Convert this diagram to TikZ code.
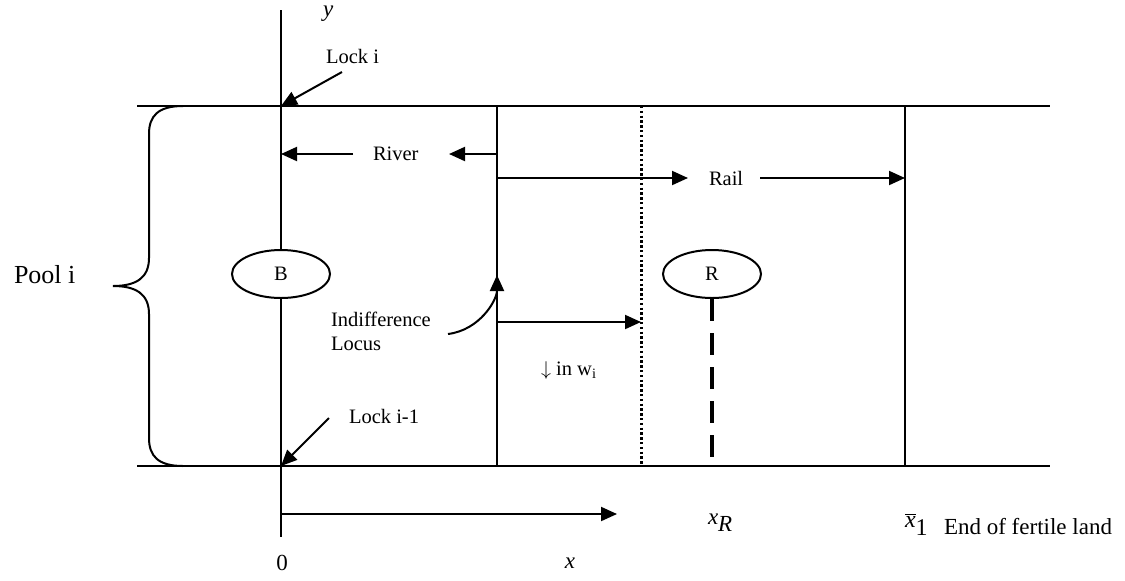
\documentclass[tikz,border=0pt]{standalone}
\usepackage{fontspec}
\setmainfont{Liberation Serif}
\usetikzlibrary{arrows.meta,shapes.geometric}
\begin{document}
\begin{tikzpicture}[x=0.5pt,y=-0.5pt,line width=1pt,
  arr/.style={-{Triangle[length=8pt,width=7pt]}},
  lbl/.style={font=\fontsize{10.25}{12}\selectfont,inner sep=0pt},
  big/.style={font=\fontsize{11.5}{13}\selectfont},
  oval/.style={ellipse,draw,fill=white,minimum width=49pt,minimum height=24pt,inner sep=0pt,font=\fontsize{10.25}{12}\selectfont},
  dotline/.style={line width=1.5pt,dash pattern=on 1.2pt off 1.2pt},
  dashline/.style={line width=1.6pt,dash pattern=on 11pt off 6pt}]
\useasboundingbox (0,0) rectangle (1125,580);
% coordinates
\coordinate (ytop) at (281,10);
\coordinate (ybot) at (281,537);
\coordinate (TL) at (137,106);
\coordinate (TR) at (1050,106);
\coordinate (BL) at (137,466);
\coordinate (BR) at (1050,466);
\coordinate (O1) at (281,106);
\coordinate (O0) at (281,466);
\coordinate (indT) at (497,106);
\coordinate (indB) at (497,466);
\coordinate (dotT) at (641,106);
\coordinate (dotB) at (641,466);
\coordinate (endT) at (905,106);
\coordinate (endB) at (905,466);
\coordinate (xR) at (712,466);
% main lines
\draw (TL) -- (TR);
\draw (BL) -- (BR);
\draw (ytop) -- (ybot);
\draw (indT) -- (indB);
\draw (endT) -- (endB);
\draw[dotline] (dotT) -- (dotB);
% ellipses
\node[oval] (B) at (281,274) {B};
\node[oval] (R) at (712,274) {R};
\draw[dashline] (R.south) -- (xR);
% brace
\draw (183,106) .. controls (158,106) and (149,116) .. (149,134) -- (149,258)
  .. controls (149,278) and (136,286) .. (113,286)
  .. controls (136,286) and (149,294) .. (149,314) -- (149,438)
  .. controls (149,456) and (158,466) .. (183,466);
% labels
\node[lbl,anchor=base west,font=\fontsize{13}{15}\selectfont] (pool) at (13,283) {Pool i};
\node[lbl,big,anchor=base west] (ylab) at (322,16) {\textit{y}};
\node[lbl,anchor=base west] (lock) at (325,63) {Lock i};
\node[lbl,anchor=base west] (lock1) at (348,423) {Lock i-1};
\node[lbl,anchor=west] (river) at (372,154) {River};
\node[lbl,anchor=west] (rail) at (708,178) {Rail};
\node[lbl,anchor=base west,align=left] (ind) at (330,350) {Indifference\\Locus};
\node[lbl,anchor=west] (dw) at (540,370) {$\downarrow$ in w\textsubscript{i}};
\node[lbl,big] (zero) at (282,563) {0};
\node[lbl,big] (xlab) at (570,563) {\textit{x}};
\node[lbl,big,anchor=west] (xRlab) at (707,523) {\(\textit{x}_{\textit{R}}\)};
\node[lbl,big,anchor=west,font=\fontsize{12}{14}\selectfont] (xbar) at (904,524) {\(\overline{\textit{x}}_{\textrm{1}}\)};
\node[lbl,big,anchor=west] (fert) at (943,527) {End of fertile land};
% arrows
\coordinate (lockT) at (342,72);
\draw[arr] (lockT) -- (O1);
\coordinate (lock1T) at (329,418);
\draw[arr] (lock1T) -- (O0);
\coordinate (rv1) at (353,154);
\coordinate (rv0) at (281,154);
\draw[arr] (rv1) -- (rv0);
\coordinate (rv2) at (497,154);
\coordinate (rv3) at (449,154);
\draw[arr] (rv2) -- (rv3);
\coordinate (ra0) at (497,178);
\coordinate (ra1) at (688,178);
\draw[arr] (ra0) -- (ra1);
\coordinate (ra2) at (760,178);
\coordinate (ra3) at (905,178);
\draw[arr] (ra2) -- (ra3);
\coordinate (mw0) at (497,322);
\coordinate (mw1) at (641,322);
\draw[arr] (mw0) -- (mw1);
\coordinate (ax0) at (281,514);
\coordinate (ax1) at (617,514);
\draw[arr] (ax0) -- (ax1);
\coordinate (cs) at (448,334);
\coordinate (ce) at (497,275);
\draw[arr] (cs) .. controls (480,330) and (497,300) .. (ce);
\end{tikzpicture}
\end{document}
